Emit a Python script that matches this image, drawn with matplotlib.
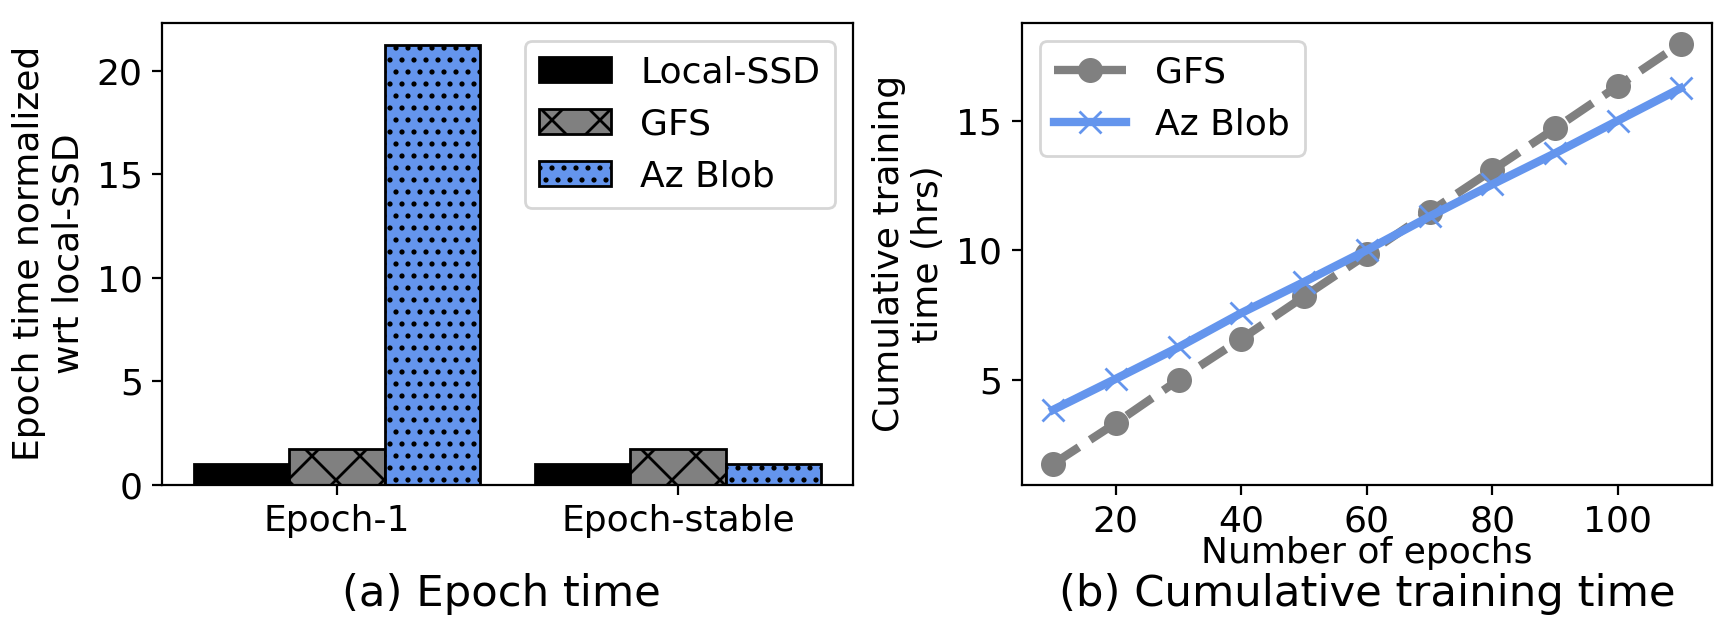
import numpy as np
import matplotlib
matplotlib.use("Agg")
import matplotlib.pyplot as plt

# ---- data ----
groups = ["Epoch-1", "Epoch-stable"]
local_ssd = [1.0, 1.0]
gfs_norm = [1.76, 1.76]
azblob_norm = [21.25, 0.99]

epochs = [10, 20, 30, 40, 50, 60, 70, 80, 90, 100, 110]
gfs_cum = [1.74, 3.32, 4.99, 6.57, 8.21, 9.83, 11.48, 13.09, 14.70, 16.34, 17.97]
az_cum = [3.83, 5.03, 6.25, 7.57, 8.77, 10.0, 11.30, 12.54, 13.74, 15.0, 16.25]

W, H, DPI = 1735, 636, 144
s = 200.0 / DPI  # keep pixel sizes as designed for 200 dpi

plt.rcParams['font.family'] = ['DejaVu Sans']
plt.rcParams.update({
    'font.size': 13 * s,
    'axes.linewidth': 0.8 * s,
    'axes.labelpad': 4.0 * s,
    'xtick.major.size': 3.5 * s, 'ytick.major.size': 3.5 * s,
    'xtick.major.width': 0.8 * s, 'ytick.major.width': 0.8 * s,
    'xtick.major.pad': 3.5 * s, 'ytick.major.pad': 3.5 * s,
    'hatch.linewidth': 1.0 * s,
    'patch.linewidth': 1.0 * s,
    'lines.markeredgewidth': 1.0 * s,
})

fig = plt.figure(figsize=(W / DPI, H / DPI), dpi=DPI)

bottom = 1 - 485.0 / H
height = (485.0 - 22.7) / H
ax1 = fig.add_axes([162.3 / W, bottom, 690.4 / W, height])
ax2 = fig.add_axes([1021.7 / W, bottom, 690.3 / W, height])

# ---- left: bars ----
w = 0.28
x = np.arange(len(groups))
ax1.bar(x - w, local_ssd, w, color='black', edgecolor='black', linewidth=1 * s, label='Local-SSD')
ax1.bar(x, gfs_norm, w, color='gray', edgecolor='black', linewidth=1 * s, hatch='x', label='GFS')
ax1.bar(x + w, azblob_norm, w, color='cornflowerblue', edgecolor='black', linewidth=1 * s,
        hatch='..', label='Az Blob')
ax1.set_xticks(x)
ax1.set_xticklabels(groups)
ax1.set_yticks([0, 5, 10, 15, 20])
ax1.set_ylabel("Epoch time normalized\nwrt local-SSD")
ax1.legend(loc='upper right')

# ---- right: lines ----
ax2.plot(epochs, gfs_cum, color='gray', linestyle='--', linewidth=3 * s, marker='o',
         markersize=8 * s, label='GFS')
ax2.plot(epochs, az_cum, color='cornflowerblue', linestyle='-', linewidth=3 * s, marker='x',
         markersize=8 * s, label='Az Blob')
ax2.set_xticks([20, 40, 60, 80, 100])
ax2.set_yticks([5, 10, 15])
ax2.set_ylabel("Cumulative training\ntime (hrs)")
ax2.set_xlabel("Number of epochs", labelpad=-1.0 * s)
ax2.legend(loc='upper left')

# ---- captions ----
cap_y = 1 - 605.7 / H
fig.text(501.0 / W, cap_y, "(a) Epoch time", ha='center', va='baseline',
         fontsize=15.6 * s)
fig.text((1021.7 + 690.3 / 2) / W, cap_y, "(b) Cumulative training time", ha='center',
         va='baseline', fontsize=15.6 * s)

fig.savefig("out.png", dpi=DPI)
